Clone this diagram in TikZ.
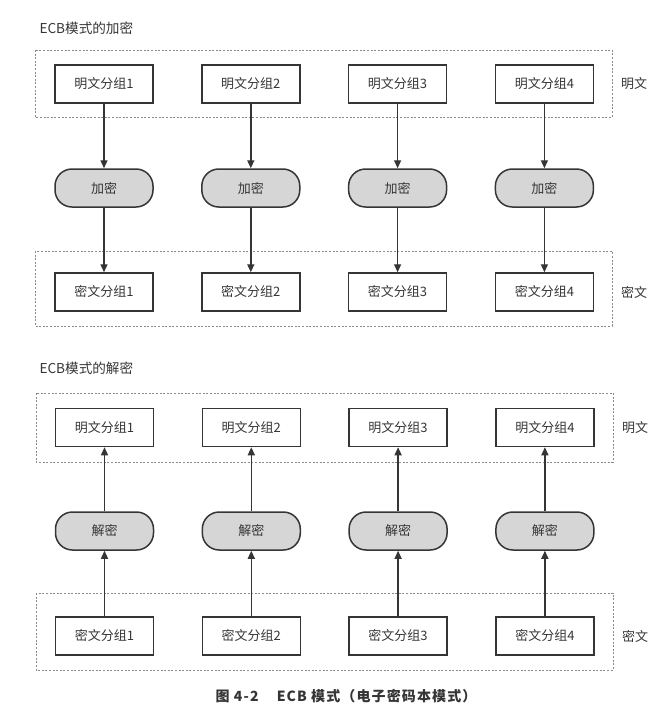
\documentclass[tikz,border=0pt]{standalone}
\usepackage{fontspec}
\setmainfont{Noto Sans CJK SC}
\usetikzlibrary{arrows.meta,positioning}
\definecolor{ink}{HTML}{353535}
\definecolor{pillfill}{HTML}{D6D6D6}
\definecolor{grp}{HTML}{8A8A8A}

\begin{document}
\begin{tikzpicture}[x=1pt,y=-1pt,
  blk/.style={draw=ink,line width=1.5pt,minimum width=98pt,minimum height=38pt,
    inner sep=0pt,text=ink,font=\fontsize{13}{15}\selectfont},
  op/.style={blk,fill=pillfill,rounded corners=17pt},
  grpbox/.style={draw=grp,dash pattern=on 2pt off 1.6pt,line width=0.7pt},
  flow/.style={draw=ink,line width=1.4pt,-{Triangle[length=8pt,width=7pt]}},
  lbl/.style={text=ink,font=\fontsize{13}{15}\selectfont}]
\useasboundingbox (0,0) rectangle (670,716);
% encryption
\node[lbl,anchor=west,font=\fontsize{13.6}{15}\selectfont] (enctitle) at (36,28) {ECB模式的加密};
\draw[grpbox] (35,50) rectangle (612,117);
\draw[grpbox] (35,251) rectangle (612,326);
\foreach \i in {1,...,4}{
  \pgfmathsetmacro{\x}{104+(\i-1)*146.8}
  \node[blk] (p\i) at (\x,84) {明文分组\i};
  \node[op] (e\i) at (\x,188) {加密};
  \node[blk] (c\i) at (\x,292) {密文分组\i};
  \draw[flow] (p\i) -- (e\i);
  \draw[flow] (e\i) -- (c\i);
}
\node[lbl] (plainlbl) at (634,84) {明文};
\node[lbl] (cipherlbl) at (634,292) {密文};
% decryption
\node[lbl,anchor=west,font=\fontsize{13.6}{15}\selectfont] (dectitle) at (36,368) {ECB模式的解密};
\draw[grpbox] (36,393) rectangle (613,462);
\draw[grpbox] (36,593) rectangle (613,670);
\foreach \i in {1,...,4}{
  \pgfmathsetmacro{\x}{104.5+(\i-1)*146.8}
  \node[blk] (dp\i) at (\x,427.5) {明文分组\i};
  \node[op] (dd\i) at (\x,531) {解密};
  \node[blk] (dc\i) at (\x,636) {密文分组\i};
  \draw[flow] (dc\i) -- (dd\i);
  \draw[flow] (dd\i) -- (dp\i);
}
\node[lbl] (dplainlbl) at (635,427.5) {明文};
\node[lbl] (dcipherlbl) at (635,636) {密文};
% caption
\node[text=ink,font=\bfseries\fontsize{14}{16}\selectfont\addfontfeature{LetterSpace=8}] (caption) at (346,696)
  {图 4-2\hspace{1.3em}ECB 模式（电子密码本模式）};
\end{tikzpicture}
\end{document}
